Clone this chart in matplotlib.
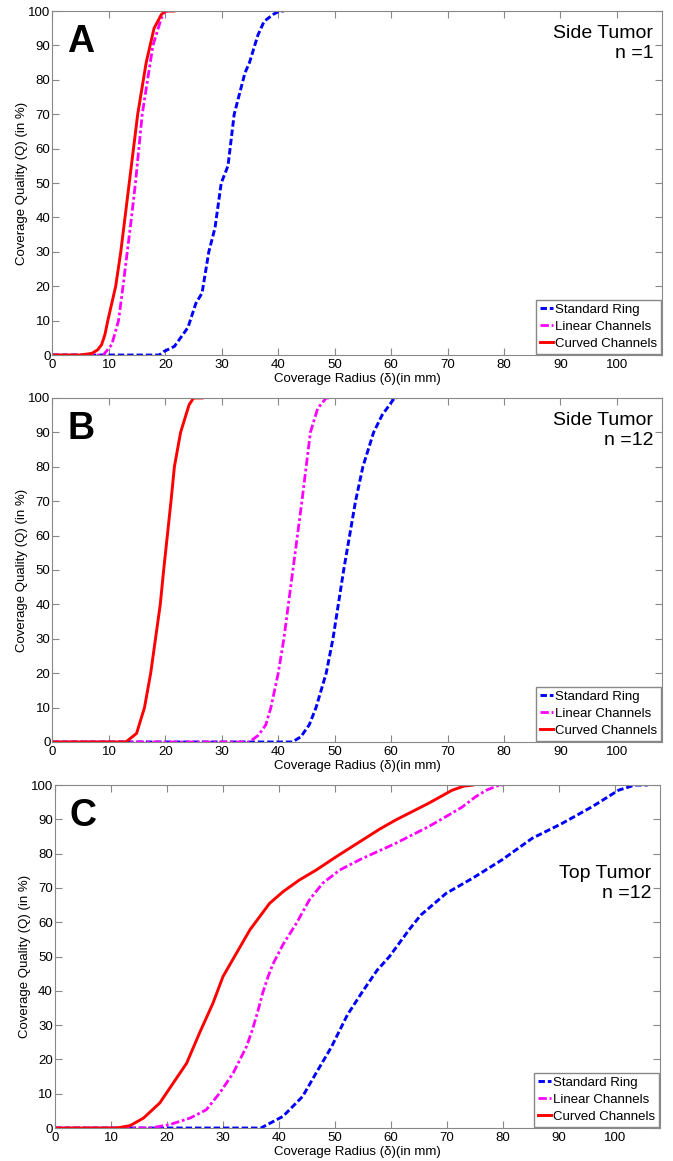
import matplotlib
matplotlib.use('Agg')
import matplotlib.pyplot as plt
import numpy as np

plt.rcParams['font.family'] = ['Liberation Sans', 'DejaVu Sans']

# Panel A - side tumor, n = 1
a_ring_x = [0, 18.9, 19.7, 21.6, 24.0, 25.4, 26.5, 27.7, 28.8, 29.9, 31.1, 32.2, 34.1, 34.9, 36.4, 37.5, 39.1, 40.2, 41.0]
a_ring_y = [0, 0, 1, 2.5, 8, 15, 18, 30, 37, 50, 55, 70, 82, 85, 93, 97, 99, 100, 100]
a_lin_x = [0, 9.0, 10.5, 11.7, 12.5, 14.0, 14.7, 15.9, 17.8, 19.3, 20.0, 20.5]
a_lin_y = [0, 0, 3, 10, 20, 40, 50, 70, 90, 98, 100, 100]
a_cur_x = [0, 5.0, 7.0, 8.0, 8.7, 9.3, 9.8, 11.2, 12.1, 13.6, 15.1, 16.6, 18.0, 19.3, 20.0, 21.5]
a_cur_y = [0, 0, 0.5, 1.5, 3, 6, 10, 20, 30, 50, 70, 85, 95, 99, 100, 100]

# Panel B - side tumor, n = 12
b_ring_x = [0, 42.5, 44.0, 45.5, 46.7, 48.5, 49.7, 51.6, 53.7, 55.0, 56.9, 58.4, 60.6, 61.0]
b_ring_y = [0, 0, 1.5, 5, 10, 20, 30, 50, 70, 80, 90, 95, 100, 100]
b_lin_x = [0, 34.9, 36.5, 37.8, 38.7, 40.0, 41.0, 42.6, 44.2, 45.7, 47.0, 48.5, 49.0]
b_lin_y = [0, 0, 2, 5, 10, 20, 30, 50, 70, 90, 97, 100, 100]
b_cur_x = [0, 13.0, 14.9, 16.3, 17.4, 19.1, 19.7, 21.0, 21.6, 22.7, 24.2, 25.0, 26.5]
b_cur_y = [0, 0, 2.5, 10, 20, 40, 50, 70, 80, 90, 98, 100, 100]

# Panel C - top tumor, n = 12
c_ring_x = [0, 36.8, 37.1, 40.7, 44.2, 46.6, 49.3, 52.2, 54.9, 57.5, 59.7, 63.2, 65.3, 69.8, 74.5, 79.8, 85.2, 90.5, 95.9, 100.6, 103.5, 105.8]
c_ring_y = [0, 0, 0.3, 3.4, 9.2, 16, 23.5, 33, 39.8, 46, 50, 57.8, 62.1, 68.4, 72.8, 78.2, 84.5, 88.8, 93.7, 98.5, 100, 100]
c_lin_x = [0, 17.0, 20.5, 24.1, 27.0, 29.4, 31.8, 34.2, 35.3, 36.2, 37.1, 38.0, 38.9, 40.7, 43.1, 45.4, 47.8, 50.8, 54.6, 60.8, 66.7, 70.0, 72.6, 75.0, 77.0, 79.0, 80.0]
c_lin_y = [0, 0, 1, 2.9, 5.3, 10.2, 16, 23.8, 29, 34, 39.5, 44, 47.8, 53.5, 59.7, 66.5, 71.4, 75.2, 78.4, 83, 87.9, 91, 93.5, 96.5, 98.5, 99.8, 100]
c_cur_x = [0, 11.0, 13.4, 15.8, 18.7, 21.1, 23.5, 25.8, 28.2, 30.0, 32.4, 34.8, 38.3, 40.7, 43.6, 46.6, 50.2, 52.6, 55.2, 57.9, 60.8, 66.7, 70.9, 73.0, 74.6]
c_cur_y = [0, 0, 0.7, 2.9, 7.3, 13.1, 18.9, 27.7, 36.4, 44.2, 51, 57.8, 65.5, 68.9, 72.3, 75.2, 79.1, 81.6, 84.3, 87.1, 89.8, 94.7, 98.5, 99.7, 100]

panels = [
    ('A', 'Side Tumor\nn =1', (a_ring_x, a_ring_y), (a_lin_x, a_lin_y), (a_cur_x, a_cur_y)),
    ('B', 'Side Tumor\nn =12', (b_ring_x, b_ring_y), (b_lin_x, b_lin_y), (b_cur_x, b_cur_y)),
    ('C', 'Top Tumor\nn =12', (c_ring_x, c_ring_y), (c_lin_x, c_lin_y), (c_cur_x, c_cur_y)),
]
ticks = list(range(0, 101, 10))

fig = plt.figure(figsize=(6.73, 11.61), dpi=100)
# axes boxes: left, bottom, width, height (figure fractions)
boxes = [
    [0.078, 0.6942, 0.9056, 0.2963],
    [0.078, 0.3609, 0.9056, 0.2963],
    [0.0817, 0.0284, 0.899, 0.2954],
]

for (letter, note, ring, lin, cur), box in zip(panels, boxes):
    ax = fig.add_axes(box)
    ax.plot(*ring, color='#0000ff', ls=(0, (2.2, 1.0)), lw=2.1, label='Standard Ring')
    ax.plot(*lin, color='#ff00ff', ls=(0, (3, 1, 1, 1)), lw=2.0, label='Linear Channels')
    ax.plot(*cur, color='#ff0000', ls='-', lw=2.1, label='Curved Channels')
    ax.set_xlim(0, 108)
    ax.set_ylim(0, 100)
    ax.set_xticks(ticks)
    ax.set_yticks(ticks)
    ax.tick_params(direction='in', top=True, right=True, labelsize=9.5, length=5,
                   color='#888888')
    ax.tick_params(axis='x', pad=3)
    ax.tick_params(axis='y', pad=1.5)
    for sp in ax.spines.values():
        sp.set_color('#888888')
    ax.set_xlabel('Coverage Radius (δ)(in mm)', fontsize=9.5, labelpad=1)
    ax.set_ylabel('Coverage Quality (Q) (in %)', fontsize=9.5, labelpad=0)
    ax.text(0.024, 0.91, letter, transform=ax.transAxes, fontsize=27,
            fontweight='bold', va='center', ha='left')
    if letter == 'C':
        ax.text(0.986, 0.714, note, transform=ax.transAxes, fontsize=14,
                ha='right', va='center', linespacing=1.25, multialignment='right')
    else:
        ax.text(0.986, 0.96, note, transform=ax.transAxes, fontsize=14,
                ha='right', va='top', linespacing=1.25, multialignment='right')
    leg = ax.legend(loc='lower right', fontsize=9.5, borderaxespad=0.1,
                    handlelength=1.0, handletextpad=0.1, borderpad=0.3,
                    labelspacing=0.35, fancybox=False, framealpha=1)
    leg.get_frame().set_edgecolor('#888888')

fig.savefig('out.png', dpi=100)
